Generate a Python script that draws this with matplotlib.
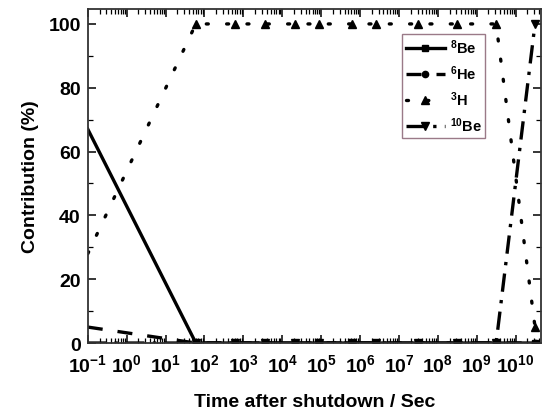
import numpy as np
import matplotlib.pyplot as plt
from matplotlib.ticker import LogLocator, MultipleLocator, FixedLocator

plt.rcParams['font.family'] = ['Liberation Sans', 'DejaVu Sans']
plt.rcParams['font.weight'] = 'bold'
plt.rcParams['mathtext.fontset'] = 'custom'
plt.rcParams['mathtext.rm'] = 'Liberation Sans:bold'
plt.rcParams['mathtext.bf'] = 'Liberation Sans:bold'
plt.rcParams['mathtext.default'] = 'bf'

# Time after shutdown (s)
t = [0.1, 60, 600, 3600, 21600, 86400, 604800, 2.6e6, 3.15e7, 3.15e8, 3.15e9, 3.15e10]

# Contribution (%)
be8 = [67, 0, 0, 0, 0, 0, 0, 0, 0, 0, 0, 0]
he6 = [5, 0, 0, 0, 0, 0, 0, 0, 0, 0, 0, 0]
h3 = [28, 100, 100, 100, 100, 100, 100, 100, 100, 100, 100, 5]
be10 = [0, 0, 0, 0, 0, 0, 0, 0, 0, 0, 0, 100]

labels = [r'$^{8}$Be', r'$^{6}$He', r'$^{3}$H', r'$^{10}$Be']
decades = list(range(-1, 11))
xticklabels = [r'$10^{%d}$' % k for k in decades]

fig = plt.figure(figsize=(5.42, 4.14), dpi=100)
ax = fig.add_axes([0.162, 0.169, 0.836, 0.807])
ax.set_xscale('log')

lw = 2.4
mk = slice(1, None)  # no marker on the left edge point
ax.plot(t, be8, '-', color='k', lw=lw, marker='s', ms=4, markevery=mk,
        label=labels[0])
ax.plot(t, he6, color='k', lw=lw, ls=(0, (4.5, 4.5)), marker='o', ms=4.5,
        markevery=mk, label=labels[1])
ax.plot(t, h3, color='k', lw=lw, ls=(0, (0.6, 5.5)), dash_capstyle='round',
        marker='^', ms=6, markevery=mk, label=labels[2])
ax.plot(t, be10, color='k', lw=lw, ls=(0, (5.5, 2.5, 1, 2.5)), marker='v',
        ms=6, markevery=mk, label=labels[3])

ax.set_xlim(0.1, 10**10.65)
ax.set_ylim(0, 104.7)
ax.xaxis.set_major_locator(FixedLocator([10.0**k for k in decades]))
ax.set_xticklabels(xticklabels)
ax.xaxis.set_minor_locator(LogLocator(base=10, subs=np.arange(2, 10), numticks=30))
ax.yaxis.set_major_locator(MultipleLocator(20))
ax.yaxis.set_minor_locator(MultipleLocator(10))
ax.tick_params(which='both', direction='in', top=True, right=True, labelsize=14)
ax.tick_params(which='major', length=6, width=1.1)
ax.tick_params(which='minor', length=3.5, width=0.9)
ax.tick_params(axis='y', pad=5)
ax.tick_params(axis='x', pad=7)
for s in ax.spines.values():
    s.set_linewidth(1.3)
    s.set_color('#333333')

ax.set_xlabel('Time after shutdown / Sec', fontsize=14, fontweight='bold', labelpad=13)
ax.set_ylabel('Contribution (%)', fontsize=14, fontweight='bold', labelpad=7)

leg = ax.legend(loc='upper left', bbox_to_anchor=(0.742, 0.915),
                bbox_transform=fig.transFigure, fontsize=10.5, fancybox=False,
                edgecolor='#9a7a88', handlelength=2.7, handletextpad=0.3,
                borderpad=0.25, borderaxespad=0, labelspacing=0.5,
                framealpha=1)
leg.get_frame().set_linewidth(1.0)

fig.savefig('out.png', dpi=100)
